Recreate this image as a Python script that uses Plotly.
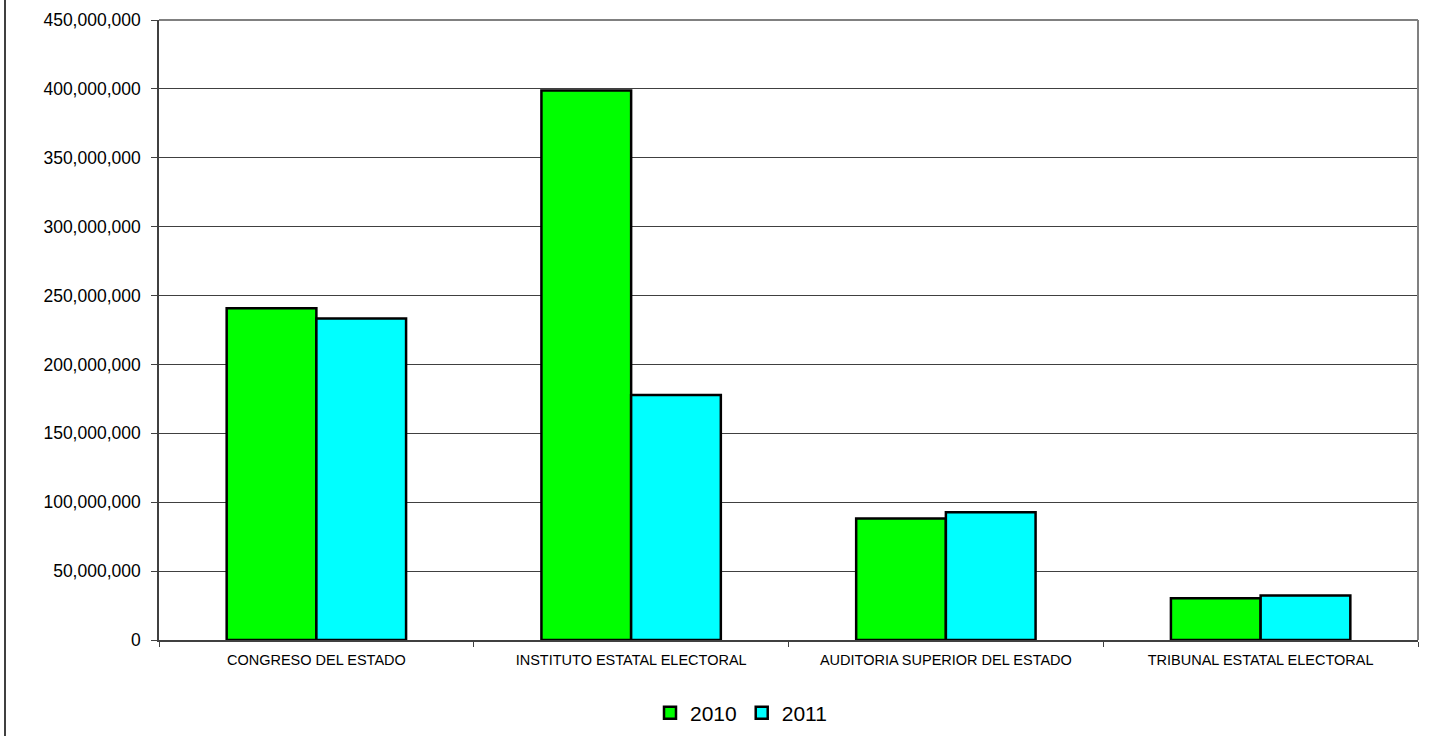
import plotly.graph_objects as go

categories = ["CONGRESO DEL ESTADO", "INSTITUTO ESTATAL ELECTORAL",
              "AUDITORIA SUPERIOR DEL ESTADO", "TRIBUNAL ESTATAL ELECTORAL"]
values_2010 = [240800000, 398800000, 88100000, 30300000]
values_2011 = [233300000, 177900000, 92700000, 32300000]
series_names = ["2010", "2011"]
y_ticks = list(range(0, 450000001, 50000000))

fig = go.Figure()
fig.add_trace(go.Bar(x=categories, y=values_2010, name=series_names[0],
                     marker=dict(color="#00FF00", line=dict(color="black", width=2.5))))
fig.add_trace(go.Bar(x=categories, y=values_2011, name=series_names[1],
                     marker=dict(color="#00FFFF", line=dict(color="black", width=2.5))))

W, H = 1437, 736
L, R, T, B = 159, 19, 20, 96
pw = W - L - R
ph = H - T - B

fig.update_layout(
    width=W, height=H,
    margin=dict(l=L, r=R, t=T, b=B, autoexpand=False),
    paper_bgcolor="white", plot_bgcolor="white",
    font=dict(family="Liberation Sans, Arial, sans-serif", color="black"),
    barmode="group", bargap=0.43, bargroupgap=0,
    showlegend=True,
    legend=dict(orientation="h", x=(741 - L) / pw, xanchor="center",
                y=-(713 - 640) / ph, yanchor="middle",
                font=dict(size=21), itemwidth=30, tracegroupgap=0),
    xaxis=dict(type="category", tickson="boundaries", ticks="outside", ticklen=5,
               tickcolor="#404040", showline=True, linecolor="#404040", linewidth=1.5,
               showgrid=False, tickfont=dict(size=14.5), ticklabelstandoff=6),
    yaxis=dict(range=[0, 450000000], tickvals=y_ticks, tickformat=",d",
               ticks="outside", ticklen=6, tickcolor="#404040",
               showline=True, linecolor="#404040", linewidth=1.5,
               showgrid=True, gridcolor="#404040", gridwidth=1,
               zeroline=False, tickfont=dict(size=17.5), ticklabelstandoff=7),
    shapes=[
        dict(type="line", xref="paper", yref="paper", x0=0, x1=1, y0=1, y1=1,
             line=dict(color="#808080", width=2)),
        dict(type="line", xref="paper", yref="paper", x0=1, x1=1, y0=0, y1=1,
             line=dict(color="#808080", width=2)),
        dict(type="line", xref="paper", yref="paper", x0=(5 - L) / pw, x1=(5 - L) / pw,
             y0=-B / ph, y1=1 + T / ph,
             line=dict(color="black", width=1.5)),
    ],
)

fig.write_html("out.html")
